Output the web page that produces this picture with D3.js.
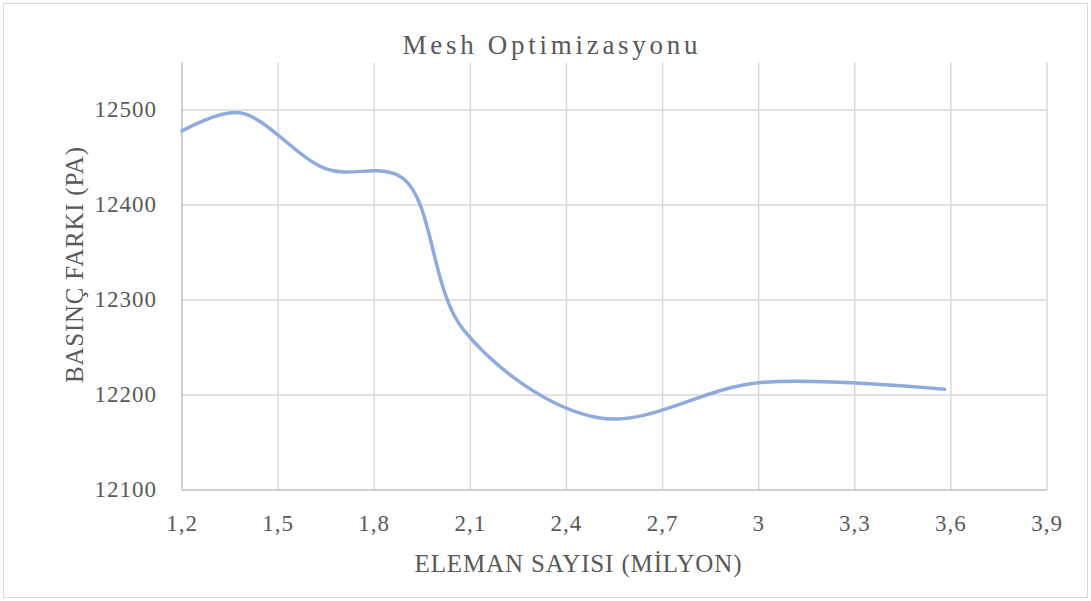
<!DOCTYPE html>
<html>
<head>
<meta charset="utf-8">
<script src="https://cdn.jsdelivr.net/npm/d3@7.9.0/dist/d3.min.js"></script>
<style>
  body { margin: 0; background: #fff; }
</style>
</head>
<body>
<svg id="chart" width="1091" height="601"></svg>
<script>
// values
const elemanSayisi = [1.2, 1.38, 1.65, 1.89, 2.08, 2.5, 3.0, 3.58];
const basincFarki = [12478, 12497, 12438, 12428, 12268, 12176, 12213, 12206];
const xTicks = [1.2, 1.5, 1.8, 2.1, 2.4, 2.7, 3.0, 3.3, 3.6, 3.9];
const yTicks = [12100, 12200, 12300, 12400, 12500];

const serif = '"Liberation Serif", "Times New Roman", "DejaVu Serif", serif';
const textColor = '#595959';

const svg = d3.select('#chart');

svg.append('rect')
    .attr('x', 3.5).attr('y', 3.5)
    .attr('width', 1084).attr('height', 594)
    .attr('fill', '#fff')
    .attr('stroke', '#d9d9d9');

const x = d3.scaleLinear().domain([1.2, 3.9]).range([182, 1047]);
const y = d3.scaleLinear().domain([12100, 12550]).range([490, 62.5]);

const comma = d => String(d).replace('.', ',');

// grid
svg.append('g')
    .selectAll('line')
    .data(xTicks.slice(1))
    .join('line')
    .attr('x1', d => x(d)).attr('x2', d => x(d))
    .attr('y1', y.range()[1]).attr('y2', y.range()[0])
    .attr('stroke', '#d9d9d9').attr('stroke-width', 1.5);

svg.append('g')
    .selectAll('line')
    .data(yTicks.slice(1))
    .join('line')
    .attr('x1', x.range()[0]).attr('x2', x.range()[1])
    .attr('y1', d => y(d)).attr('y2', d => y(d))
    .attr('stroke', '#d9d9d9').attr('stroke-width', 1.5);

// axis lines
svg.append('line')
    .attr('x1', x(1.2)).attr('x2', x(1.2))
    .attr('y1', y.range()[1]).attr('y2', y.range()[0])
    .attr('stroke', '#bfbfbf').attr('stroke-width', 1.5);
svg.append('line')
    .attr('x1', x.range()[0]).attr('x2', x.range()[1])
    .attr('y1', y(12100)).attr('y2', y(12100))
    .attr('stroke', '#bfbfbf').attr('stroke-width', 1.5);

// tick labels
svg.append('g')
    .selectAll('text')
    .data(xTicks)
    .join('text')
    .attr('x', d => x(d))
    .attr('y', 531)
    .attr('text-anchor', 'middle')
    .attr('font-family', serif)
    .attr('font-size', 23)
    .attr('letter-spacing', 1)
    .attr('fill', textColor)
    .text(comma);

svg.append('g')
    .selectAll('text')
    .data(yTicks)
    .join('text')
    .attr('x', 157)
    .attr('y', d => y(d) + 7)
    .attr('text-anchor', 'end')
    .attr('font-family', serif)
    .attr('font-size', 23)
    .attr('letter-spacing', 1)
    .attr('fill', textColor)
    .text(d => d);

// titles
svg.append('text')
    .attr('x', 550).attr('y', 54)
    .attr('text-anchor', 'middle')
    .attr('font-family', serif)
    .attr('font-size', 27)
    .attr('textLength', 295)
    .attr('lengthAdjust', 'spacing')
    .attr('fill', textColor)
    .text('Mesh Optimizasyonu');

svg.append('text')
    .attr('x', 578).attr('y', 572)
    .attr('text-anchor', 'middle')
    .attr('font-family', serif)
    .attr('font-size', 25)
    .attr('textLength', 327)
    .attr('lengthAdjust', 'spacing')
    .attr('fill', textColor)
    .text('ELEMAN SAYISI (MİLYON)');

svg.append('text')
    .attr('transform', 'translate(83,265) rotate(-90)')
    .attr('text-anchor', 'middle')
    .attr('font-family', serif)
    .attr('font-size', 25)
    .attr('textLength', 236)
    .attr('lengthAdjust', 'spacing')
    .attr('fill', textColor)
    .text('BASINÇ FARKI (PA)');

// series
const data = elemanSayisi.map((v, i) => [v, basincFarki[i]]);
const line = d3.line()
    .x(d => x(d[0]))
    .y(d => y(d[1]))
    .curve(d3.curveCatmullRom.alpha(0.5));

svg.append('path')
    .datum(data)
    .attr('d', line)
    .attr('fill', 'none')
    .attr('stroke', '#8faadc')
    .attr('stroke-width', 3.5)
    .attr('stroke-linecap', 'round');
</script>
</body>
</html>
